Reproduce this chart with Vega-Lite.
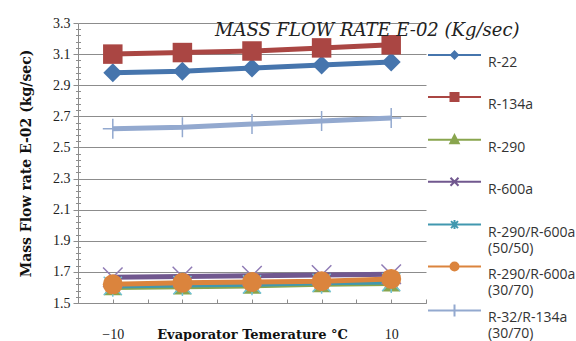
{
  "$schema": "https://vega.github.io/schema/vega-lite/v6.json",
  "width": 348,
  "height": 280,
  "autosize": {"type": "none"},
  "padding": {"left": 78, "top": 23, "right": 150, "bottom": 38},
  "background": "white",
  "config": {
    "view": {"stroke": null},
    "style": {"guide-label": {"lineHeight": 16}}
  },
  "title": {
    "text": "MASS FLOW RATE E-02 (Kg/sec)",
    "anchor": "start",
    "frame": "group",
    "dx": 137,
    "dy": 24,
    "offset": 0,
    "font": "DejaVu Serif",
    "fontSize": 18,
    "fontStyle": "italic",
    "fontWeight": "normal",
    "color": "#222"
  },
  "data": {
    "values": [
      {"s": "R-22", "t": -10, "v": 2.98},
      {"s": "R-22", "t": -5, "v": 2.99},
      {"s": "R-22", "t": 0, "v": 3.01},
      {"s": "R-22", "t": 5, "v": 3.03},
      {"s": "R-22", "t": 10, "v": 3.05},
      {"s": "R-134a", "t": -10, "v": 3.10},
      {"s": "R-134a", "t": -5, "v": 3.11},
      {"s": "R-134a", "t": 0, "v": 3.12},
      {"s": "R-134a", "t": 5, "v": 3.14},
      {"s": "R-134a", "t": 10, "v": 3.16},
      {"s": "R-290", "t": -10, "v": 1.60},
      {"s": "R-290", "t": -5, "v": 1.605},
      {"s": "R-290", "t": 0, "v": 1.61},
      {"s": "R-290", "t": 5, "v": 1.62},
      {"s": "R-290", "t": 10, "v": 1.625},
      {"s": "R-600a", "t": -10, "v": 1.665},
      {"s": "R-600a", "t": -5, "v": 1.67},
      {"s": "R-600a", "t": 0, "v": 1.675},
      {"s": "R-600a", "t": 5, "v": 1.68},
      {"s": "R-600a", "t": 10, "v": 1.685},
      {"s": "R-290/R-600a (50/50)", "t": -10, "v": 1.61},
      {"s": "R-290/R-600a (50/50)", "t": -5, "v": 1.615},
      {"s": "R-290/R-600a (50/50)", "t": 0, "v": 1.62},
      {"s": "R-290/R-600a (50/50)", "t": 5, "v": 1.63},
      {"s": "R-290/R-600a (50/50)", "t": 10, "v": 1.635},
      {"s": "R-290/R-600a (30/70)", "t": -10, "v": 1.62},
      {"s": "R-290/R-600a (30/70)", "t": -5, "v": 1.63},
      {"s": "R-290/R-600a (30/70)", "t": 0, "v": 1.635},
      {"s": "R-290/R-600a (30/70)", "t": 5, "v": 1.64},
      {"s": "R-290/R-600a (30/70)", "t": 10, "v": 1.655},
      {"s": "R-32/R-134a (30/70)", "t": -10, "v": 2.62},
      {"s": "R-32/R-134a (30/70)", "t": -5, "v": 2.63},
      {"s": "R-32/R-134a (30/70)", "t": 0, "v": 2.65},
      {"s": "R-32/R-134a (30/70)", "t": 5, "v": 2.67},
      {"s": "R-32/R-134a (30/70)", "t": 10, "v": 2.69}
    ]
  },
  "resolve": {"axis": {"x": "independent", "y": "independent"}},
  "encoding": {
    "x": {"field": "t", "type": "quantitative", "scale": {"domain": [-12.5, 12.5], "nice": false}, "axis": null},
    "y": {"field": "v", "type": "quantitative", "scale": {"domain": [1.5, 3.3], "nice": false, "zero": false}, "axis": null}
  },
  "layer": [
    {
      "mark": {"type": "line", "strokeWidth": 5},
      "encoding": {
        "x": {
          "field": "t", "type": "quantitative",
          "scale": {"domain": [-12.5, 12.5], "nice": false},
          "axis": {
            "orient": "bottom",
            "values": [-10, 10],
            "ticks": false,
            "tickSize": 0,
            "grid": false,
            "domainColor": "#8c8c8c",
            "labelFont": "Liberation Serif",
            "labelFontSize": 14,
            "labelColor": "#222",
            "labelPadding": 24,
            "title": "Evaporator Temerature °C",
            "titleFont": "DejaVu Serif",
            "titleFontSize": 13,
            "titleFontWeight": "bold",
            "titleColor": "#111",
            "titleY": 31,
            "titleBaseline": "middle"
          }
        },
        "y": {
          "field": "v", "type": "quantitative",
          "scale": {"domain": [1.5, 3.3], "nice": false, "zero": false},
          "axis": {
            "orient": "left",
            "values": [1.5, 1.7, 1.9, 2.1, 2.3, 2.5, 2.7, 2.9, 3.1, 3.3],
            "format": ".1f",
            "grid": true,
            "gridColor": "#8c8c8c",
            "domainColor": "#8c8c8c",
            "tickColor": "#8c8c8c",
            "tickSize": 5,
            "labelFont": "Liberation Serif",
            "labelFontSize": 14,
            "labelColor": "#222",
            "labelPadding": 3,
            "title": "Mass Flow rate E-02 (kg/sec)",
            "titleFont": "DejaVu Serif",
            "titleFontSize": 14,
            "titleFontWeight": "bold",
            "titleColor": "#111",
            "titlePadding": 19
          }
        },
        "color": {
          "field": "s", "type": "nominal",
          "scale": {
            "domain": ["R-134a", "R-22", "R-290", "R-290/R-600a (30/70)", "R-290/R-600a (50/50)", "R-32/R-134a (30/70)", "R-600a"],
            "range": ["#AA4643", "#4675AD", "#89A54E", "#DB843D", "#4198AF", "#93A9CF", "#71588F"]
          },
          "legend": null
        }
      }
    },
    {
      "transform": [{"filter": "datum.s === 'R-22'"}],
      "mark": {"type": "point", "shape": "diamond", "filled": true, "size": 361, "color": "#4675AD", "opacity": 1}
    },
    {
      "transform": [{"filter": "datum.s === 'R-134a'"}],
      "mark": {"type": "point", "shape": "square", "filled": true, "size": 380, "color": "#AA4643", "opacity": 1}
    },
    {
      "transform": [{"filter": "datum.s === 'R-290'"}],
      "mark": {"type": "point", "shape": "triangle-up", "filled": true, "size": 330, "color": "#89A54E", "opacity": 1}
    },
    {
      "transform": [{"filter": "datum.s === 'R-600a'"}],
      "mark": {"type": "point", "shape": "M-1,-1L1,1M-1,1L1,-1", "filled": false, "size": 380, "strokeWidth": 1.5, "color": "#8F7BB5", "opacity": 1}
    },
    {
      "transform": [{"filter": "datum.s === 'R-290/R-600a (50/50)'"}],
      "mark": {"type": "point", "shape": "M-1,-1L1,1M-1,1L1,-1M0,-1.2L0,1.2", "filled": false, "size": 330, "strokeWidth": 1.5, "color": "#6EC2D6", "opacity": 1}
    },
    {
      "transform": [{"filter": "datum.s === 'R-290/R-600a (30/70)'"}],
      "mark": {"type": "point", "shape": "circle", "filled": true, "size": 400, "color": "#DB843D", "opacity": 1}
    },
    {
      "transform": [{"filter": "datum.s === 'R-32/R-134a (30/70)'"}],
      "mark": {"type": "point", "shape": "M0,-1L0,1M-1,0L1,0", "filled": false, "size": 400, "strokeWidth": 1.5, "color": "#93A9CF", "opacity": 1}
    },
    {
      "mark": {"type": "point", "filled": true, "fillOpacity": 0, "strokeOpacity": 0, "strokeWidth": 2},
      "encoding": {
        "x": {
          "field": "t", "type": "quantitative",
          "scale": {"domain": [-12.5, 12.5], "nice": false},
          "axis": {
            "orient": "bottom",
            "values": [-12.5, -10, -7.5, -5, -2.5, 0, 2.5, 5, 7.5, 10, 12.5],
            "ticks": true,
            "tickSize": 4,
            "tickColor": "#8c8c8c",
            "offset": -4,
            "domain": false,
            "labels": false,
            "grid": false,
            "title": null
          }
        },
        "y": {
          "field": "v", "type": "quantitative",
          "scale": {"domain": [1.5, 3.3], "nice": false, "zero": false},
          "axis": {
            "orient": "left",
            "values": [1.54, 1.58, 1.62, 1.66, 1.74, 1.78, 1.82, 1.86, 1.94, 1.98, 2.02, 2.06, 2.14, 2.18, 2.22, 2.26, 2.34, 2.38, 2.42, 2.46, 2.54, 2.58, 2.62, 2.66, 2.74, 2.78, 2.82, 2.86, 2.94, 2.98, 3.02, 3.06, 3.14, 3.18, 3.22, 3.26],
            "ticks": true,
            "tickSize": 5,
            "tickColor": "#8c8c8c",
            "offset": -2.5,
            "domain": false,
            "labels": false,
            "grid": false,
            "title": null
          }
        },
        "stroke": {
          "field": "s", "type": "nominal",
          "scale": {
            "domain": ["R-22", "R-134a", "R-290", "R-600a", "R-290/R-600a (50/50)", "R-290/R-600a (30/70)", "R-32/R-134a (30/70)"],
            "range": ["#4675AD", "#AA4643", "#89A54E", "#71588F", "#4198AF", "#DB843D", "#93A9CF"]
          }
        },
        "fill": {
          "field": "s", "type": "nominal",
          "scale": {
            "domain": ["R-22", "R-134a", "R-290", "R-600a", "R-290/R-600a (50/50)", "R-290/R-600a (30/70)", "R-32/R-134a (30/70)"],
            "range": ["#4675AD", "#AA4643", "#89A54E", "#71588F", "#4198AF", "#DB843D", "#93A9CF"]
          }
        },
        "shape": {
          "field": "s", "type": "nominal",
          "scale": {
            "domain": ["R-22", "R-134a", "R-290", "R-600a", "R-290/R-600a (50/50)", "R-290/R-600a (30/70)", "R-32/R-134a (30/70)"],
            "range": [
              "M-1,-0.533L2.533,-0.533M0.767,-0.766L1,-0.533L0.767,-0.3L0.534,-0.533Z",
              "M-1,-0.533L2.533,-0.533M0.5,-0.8L1.034,-0.8L1.034,-0.266L0.5,-0.266Z",
              "M-1,-0.533L2.533,-0.533M0.767,-0.84L1.047,-0.3L0.487,-0.3Z",
              "M-1,-0.533L2.533,-0.533M0.5,-0.8L1.034,-0.266M0.5,-0.266L1.034,-0.8",
              "M-1,-0.533L2.533,-0.533M0.534,-0.766L1,-0.3M0.534,-0.3L1,-0.766M0.767,-0.833L0.767,-0.233",
              "M-1,-0.533L2.533,-0.533M0.5,-0.533A0.267,0.267 0 1,0 1.034,-0.533A0.267,0.267 0 1,0 0.5,-0.533Z",
              "M-1,-0.533L2.533,-0.533M0.767,-0.933L0.767,-0.133"
            ]
          },
          "legend": {
            "orient": "none",
            "legendX": 349,
            "legendY": 24,
            "title": null,
            "padding": 0,
            "symbolSize": 900,
            "symbolStrokeWidth": 2,
            "symbolOpacity": 1,
            "symbolFillOpacity": 1,
            "labelFont": "Open Sans",
            "labelFontSize": 14,
            "labelColor": "#333",
            "labelLimit": 300,
            "labelOffset": 29,
            "rowPadding": 2.9,
            "labelExpr": "split(datum.label + (indexof(datum.label, ' ') < 0 ? ' ' : ''), ' ')"
          }
        }
      }
    }
  ]
}
